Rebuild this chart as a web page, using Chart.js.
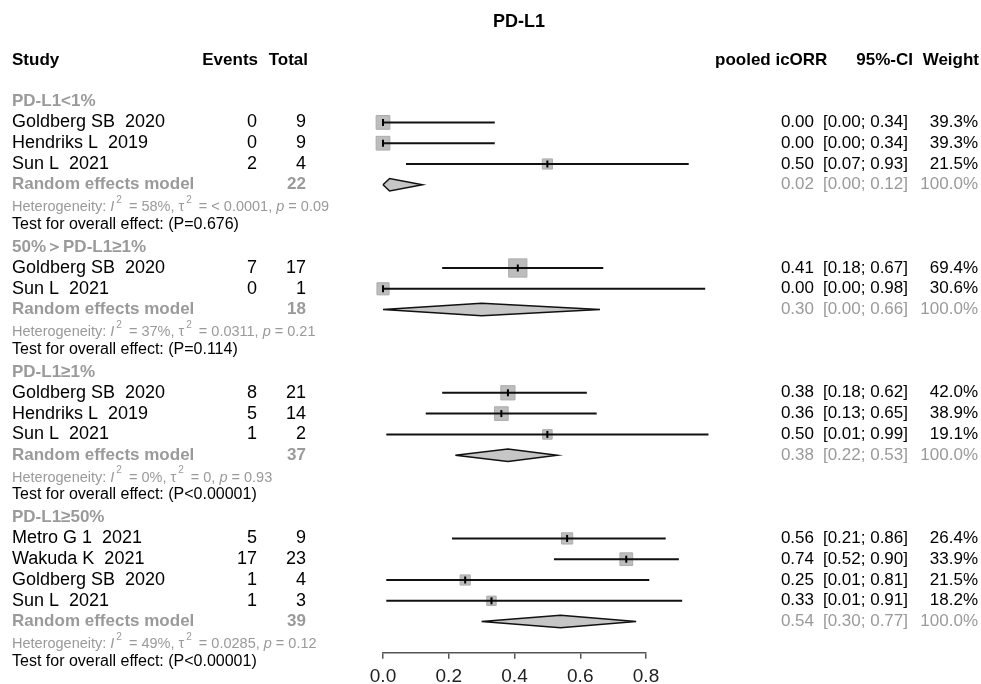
<!DOCTYPE html>
<html>
<head>
<meta charset="utf-8">
<script src="https://cdn.jsdelivr.net/npm/chart.js@4.4.0/dist/chart.umd.min.js"></script>
<style>
  html, body { margin: 0; padding: 0; background: #fff; }
</style>
</head>
<body>
<canvas id="forest" width="981" height="684"></canvas>
<script>
// subgroup labels and study rows
const groupLabels = ['PD-L1<1%', '50%＞PD-L1≥1%', 'PD-L1≥1%', 'PD-L1≥50%'];
const studyNames = ['Goldberg SB  2020', 'Hendriks L  2019', 'Sun L  2021',
                    'Goldberg SB  2020', 'Sun L  2021',
                    'Goldberg SB  2020', 'Hendriks L  2019', 'Sun L  2021',
                    'Metro G 1  2021', 'Wakuda K  2021', 'Goldberg SB  2020', 'Sun L  2021'];
const studyGroup = [0, 0, 0, 1, 1, 2, 2, 2, 3, 3, 3, 3];
const events = [0, 0, 2, 7, 0, 8, 5, 1, 5, 17, 1, 1];
const totals = [9, 9, 4, 17, 1, 21, 14, 2, 9, 23, 4, 3];
const icorr = [0.00, 0.00, 0.50, 0.41, 0.00, 0.38, 0.36, 0.50, 0.56, 0.74, 0.25, 0.33];
const ciLower = [0.00, 0.00, 0.07, 0.18, 0.00, 0.18, 0.13, 0.01, 0.21, 0.52, 0.01, 0.01];
const ciUpper = [0.34, 0.34, 0.93, 0.67, 0.98, 0.62, 0.65, 0.99, 0.86, 0.90, 0.81, 0.91];
const weights = [39.3, 39.3, 21.5, 69.4, 30.6, 42.0, 38.9, 19.1, 26.4, 33.9, 21.5, 18.2];

// pooled (random effects) per subgroup
const pooledTotal = [22, 18, 37, 39];
const pooledIcorr = [0.02, 0.30, 0.38, 0.54];
const pooledLower = [0.00, 0.00, 0.22, 0.30];
const pooledUpper = [0.12, 0.66, 0.53, 0.77];
const pooledWeight = [100.0, 100.0, 100.0, 100.0];
const hetI2 = ['58%', '37%', '0%', '49%'];
const hetTau2 = ['< 0.0001', '0.0311', '0', '0.0285'];
const hetP = ['0.09', '0.21', '0.93', '0.12'];
const overallP = ['(P=0.676)', '(P=0.114)', '(P<0.00001)', '(P<0.00001)'];

const xTicks = [0, 0.2, 0.4, 0.6, 0.8];

// row numbers: header is row 0, then each subgroup block
const groupRow = [], studyRow = [], pooledRow = [];
let row = 2;
groupLabels.forEach((g, gi) => {
  groupRow.push(row++);
  studyGroup.forEach((sg, i) => { if (sg === gi) studyRow[i] = row++; });
  pooledRow.push(row);
  row += 3;
});

const FONT = '"Liberation Sans", Arial, sans-serif';
const BLACK = '#000';
const GREY = '#9a9a9a';

const datasets = [];

// weight squares
datasets.push({
  type: 'scatter',
  data: icorr.map((v, i) => ({ x: v, y: studyRow[i] })),
  pointStyle: 'rect',
  pointRadius: weights.map(w => 1.55 * Math.sqrt(w)),
  backgroundColor: '#bdbdbd',
  borderColor: '#acacac',
  borderWidth: 1,
  order: 3,
  clip: false
});

// confidence interval lines
icorr.forEach((v, i) => {
  datasets.push({
    type: 'line',
    data: [{ x: ciLower[i], y: studyRow[i] }, { x: ciUpper[i], y: studyRow[i] }],
    borderColor: '#111',
    borderWidth: 2,
    pointRadius: 0,
    order: 2,
    clip: false
  });
});

// little vertical mark at the estimate
datasets.push({
  type: 'scatter',
  data: icorr.map((v, i) => ({ x: v, y: studyRow[i] })),
  pointStyle: 'line',
  rotation: 90,
  pointRadius: 3.5,
  borderColor: '#000',
  borderWidth: 2,
  order: 1,
  clip: false
});

// pooled diamonds
pooledIcorr.forEach((v, g) => {
  const r = pooledRow[g];
  datasets.push({
    type: 'line',
    data: [
      { x: pooledLower[g], y: r }, { x: v, y: r - 0.3 },
      { x: pooledUpper[g], y: r }, { x: v, y: r + 0.3 },
      { x: pooledLower[g], y: r }
    ],
    fill: 'shape',
    backgroundColor: '#c6c6c6',
    borderColor: '#111',
    borderWidth: 1.5,
    pointRadius: 0,
    order: 2,
    clip: false
  });
});

const forestTable = {
  id: 'forestTable',
  afterDraw(chart) {
    const ctx = chart.ctx;
    const ys = chart.scales.y;
    const put = (s, x, r, align, font, color) => {
      ctx.font = font;
      ctx.fillStyle = color;
      ctx.textAlign = align;
      ctx.textBaseline = 'middle';
      ctx.fillText(s, x, ys.getPixelForValue(r));
    };
    ctx.save();

    ctx.font = 'bold 18px ' + FONT;
    ctx.fillStyle = BLACK;
    ctx.textAlign = 'center';
    ctx.textBaseline = 'middle';
    ctx.fillText('PD-L1', 519, 22);

    const hb = 'bold 17px ' + FONT;
    put('Study', 12, 0, 'left', hb, BLACK);
    put('Events', 258, 0, 'right', hb, BLACK);
    put('Total', 308, 0, 'right', hb, BLACK);
    put('pooled icORR', 715, 0, 'left', hb, BLACK);
    put('95%-CI', 913, 0, 'right', hb, BLACK);
    put('Weight', 979, 0, 'right', hb, BLACK);

    const sf18 = '18px ' + FONT;
    const nf = '17px ' + FONT;
    const bf = 'bold 17px ' + FONT;
    studyNames.forEach((n, i) => {
      const r = studyRow[i];
      put(n, 12, r, 'left', sf18, BLACK);
      put(String(events[i]), 257, r, 'right', sf18, BLACK);
      put(String(totals[i]), 306, r, 'right', sf18, BLACK);
      put(icorr[i].toFixed(2), 814, r, 'right', nf, BLACK);
      put('[' + ciLower[i].toFixed(2) + '; ' + ciUpper[i].toFixed(2) + ']', 908, r, 'right', nf, BLACK);
      put(weights[i].toFixed(1) + '%', 978, r, 'right', nf, BLACK);
    });

    groupLabels.forEach((g, gi) => {
      put(g, 12, groupRow[gi], 'left', bf, GREY);
      const r = pooledRow[gi];
      put('Random effects model', 12, r, 'left', bf, GREY);
      put(String(pooledTotal[gi]), 306, r, 'right', bf, GREY);
      put(pooledIcorr[gi].toFixed(2), 814, r, 'right', nf, GREY);
      put('[' + pooledLower[gi].toFixed(2) + '; ' + pooledUpper[gi].toFixed(2) + ']', 908, r, 'right', nf, GREY);
      put(pooledWeight[gi].toFixed(1) + '%', 978, r, 'right', nf, GREY);

      // heterogeneity line, with italics and superscripts
      const hy = ys.getPixelForValue(r + 1.08);
      const hf = '14.5px ' + FONT, hi = 'italic 14.5px ' + FONT, supf = '10px ' + FONT;
      const parts = [
        ['Heterogeneity: ', hf, 0], ['I', hi, 0], ['2', supf, -7],
        [' = ' + hetI2[gi] + ', ', hf, 0], ['\u03c4', hf, 0], ['2', supf, -7],
        [' = ' + hetTau2[gi] + ', ', hf, 0], ['p', hi, 0], [' = ' + hetP[gi], hf, 0]
      ];
      let hx = 12;
      ctx.fillStyle = GREY;
      ctx.textAlign = 'left';
      ctx.textBaseline = 'middle';
      parts.forEach(([s, f, dy]) => {
        ctx.font = f;
        if (dy) hx += 2;
        ctx.fillText(s, hx, hy + dy);
        hx += ctx.measureText(s).width + (dy ? 3 : 0);
      });

      put('Test for overall effect: ' + overallP[gi], 12, r + 1.9, 'left', '16px ' + FONT, BLACK);
    });
    ctx.restore();
  }
};

new Chart(document.getElementById('forest'), {
  type: 'scatter',
  data: { datasets },
  options: {
    responsive: false,
    animation: false,
    events: [],
    layout: { padding: { top: 60, left: 383, right: 335, bottom: -10 } },
    plugins: {
      legend: { display: false },
      tooltip: { enabled: false },
      title: { display: false }
    },
    scales: {
      x: {
        type: 'linear',
        min: 0,
        max: 0.8,
        afterBuildTicks: s => { s.ticks = xTicks.map(v => ({ value: v })); },
        border: { display: true, color: '#555', width: 1.5 },
        grid: { drawOnChartArea: false, drawTicks: true, tickLength: 6, color: '#555', lineWidth: 1.5 },
        ticks: {
          color: '#222',
          font: { family: FONT, size: 19, lineHeight: 0.8 },
          padding: 10,
          maxRotation: 0,
          autoSkip: false,
          callback: v => v.toFixed(1)
        }
      },
      y: { type: 'linear', display: false, reverse: true, min: 0, max: 28.5 }
    }
  },
  plugins: [forestTable]
});
</script>
</body>
</html>
